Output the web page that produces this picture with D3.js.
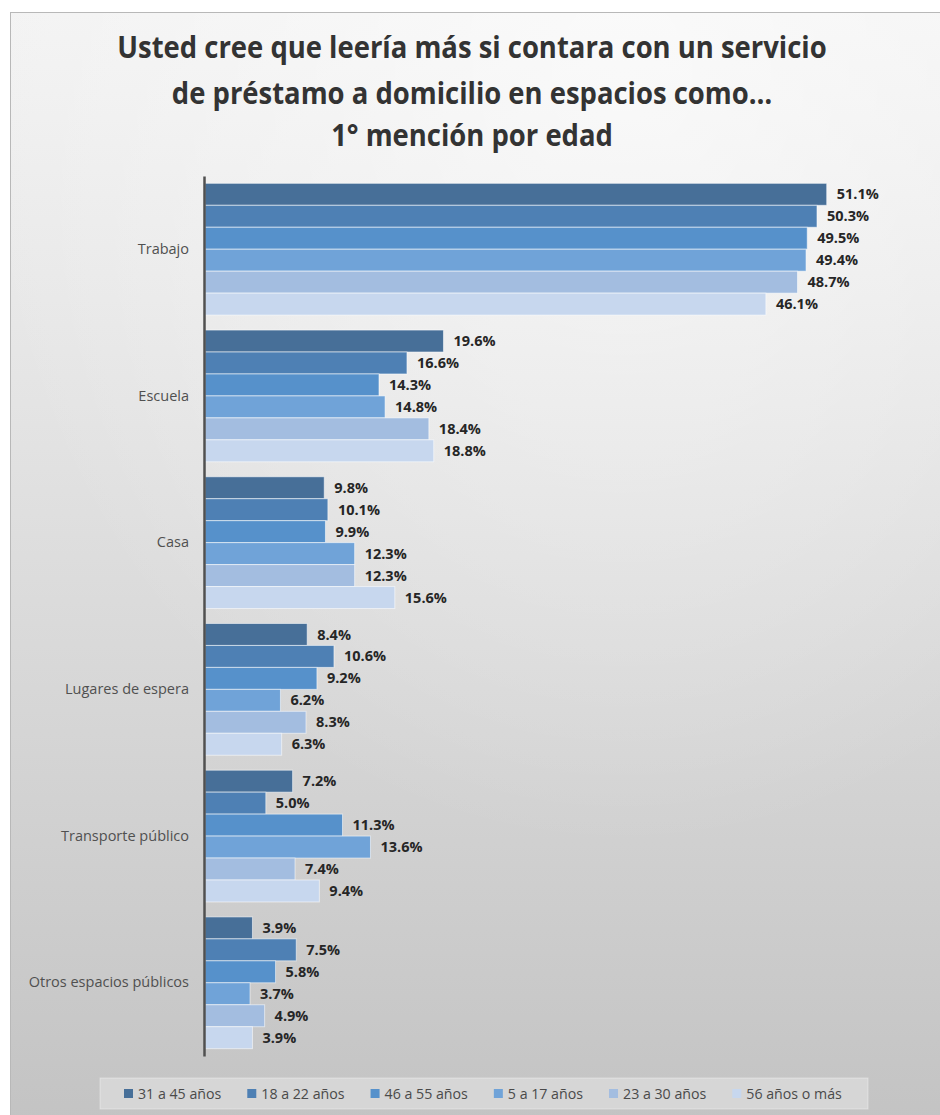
<!DOCTYPE html>
<html>
<head>
<meta charset="utf-8">
<script src="https://cdn.jsdelivr.net/npm/d3@7"></script>
<style>
  html, body { margin: 0; padding: 0; background: #ffffff; }
  svg { display: block; }
</style>
</head>
<body>
<svg id="chart" width="940" height="1115"></svg>
<script>
// ---- Data ----
const titleLines = [
  "Usted cree que leería más si contara con un servicio",
  "de préstamo a domicilio en espacios como…",
  "1° mención por edad"
];
const categories = ["Trabajo", "Escuela", "Casa", "Lugares de espera", "Transporte público", "Otros espacios públicos"];
const seriesNames = ["31 a 45 años", "18 a 22 años", "46 a 55 años", "5 a 17 años", "23 a 30 años", "56 años o más"];
const s31a45 = [51.1, 19.6, 9.8, 8.4, 7.2, 3.9];
const s18a22 = [50.3, 16.6, 10.1, 10.6, 5.0, 7.5];
const s46a55 = [49.5, 14.3, 9.9, 9.2, 11.3, 5.8];
const s5a17  = [49.4, 14.8, 12.3, 6.2, 13.6, 3.7];
const s23a30 = [48.7, 18.4, 12.3, 8.3, 7.4, 4.9];
const s56mas = [46.1, 18.8, 15.6, 6.3, 9.4, 3.9];
const seriesValues = [s31a45, s18a22, s46a55, s5a17, s23a30, s56mas];
const seriesColors = ["#476f98", "#4e80b4", "#5691cb", "#70a3d8", "#a3bde0", "#c7d7ee"];

// ---- Build ----
const svg = d3.select("#chart");
const W = 940, H = 1115;

const defs = svg.append("defs");
const lg = defs.append("linearGradient").attr("id", "bg").attr("x1", 0).attr("y1", 0).attr("x2", 0).attr("y2", 1);
lg.append("stop").attr("offset", "0%").attr("stop-color", "#f3f3f3");
lg.append("stop").attr("offset", "35%").attr("stop-color", "#e4e4e4");
lg.append("stop").attr("offset", "100%").attr("stop-color", "#c3c3c3");
const rg = defs.append("radialGradient").attr("id", "glow").attr("cx", 0.65).attr("cy", 0.05).attr("r", 0.7);
rg.append("stop").attr("offset", "0%").attr("stop-color", "#ffffff").attr("stop-opacity", 0.6);
rg.append("stop").attr("offset", "100%").attr("stop-color", "#ffffff").attr("stop-opacity", 0);

svg.append("rect").attr("x", 0).attr("y", 0).attr("width", W).attr("height", H).attr("fill", "#ffffff");
svg.append("rect").attr("x", 10.5).attr("y", 12.5).attr("width", W).attr("height", H)
  .attr("fill", "url(#bg)").attr("stroke", "#b8b8b8").attr("stroke-width", 1);
svg.append("rect").attr("x", 11).attr("y", 13).attr("width", W).attr("height", H).attr("fill", "url(#glow)");

// Title (condensed horizontally to mimic a narrow face)
const titleG = svg.append("g").attr("transform", "translate(472,0) scale(0.885,1)");
const title = titleG.append("text").attr("text-anchor", "middle")
  .attr("font-family", "'Open Sans', sans-serif")
  .attr("font-weight", "bold").attr("font-size", 31).attr("fill", "#333333");
const titleY = [58, 104, 146];
titleLines.forEach((t, i) => {
  title.append("tspan").attr("x", 0).attr("y", titleY[i]).text(t);
});

// Scales
const x = d3.scaleLinear().domain([0, 60]).range([205, 935]);
const y = d3.scaleBand().domain(categories).range([176, 1056]).paddingInner(0.102).paddingOuter(0.05);
const yInner = d3.scaleBand().domain(d3.range(seriesNames.length)).range([0, y.bandwidth()]);

// Bars
const groups = svg.append("g").selectAll("g").data(categories).join("g")
  .attr("transform", d => `translate(0,${y(d)})`);

groups.each(function(cat, ci) {
  const g = d3.select(this);
  const rows = seriesValues.map((vals, si) => ({ si, v: vals[ci] }));
  g.selectAll("rect").data(rows).join("rect")
    .attr("x", x(0))
    .attr("y", d => yInner(d.si))
    .attr("width", d => x(d.v) - x(0))
    .attr("height", yInner.bandwidth())
    .attr("fill", d => seriesColors[d.si])
    .attr("stroke", "rgba(255,255,255,0.55)")
    .attr("stroke-width", 1);
  g.selectAll("text.val").data(rows).join("text").attr("class", "val")
    .attr("x", d => x(d.v) + 10)
    .attr("y", d => yInner(d.si) + yInner.bandwidth() / 2)
    .attr("dy", "0.35em")
    .attr("font-family", "'Open Sans', sans-serif")
    .attr("font-weight", "bold").attr("font-size", 14.5).attr("fill", "#262626")
    .text(d => d.v.toFixed(1) + "%");
});

// Axis
const yAxis = d3.axisLeft(y).tickSize(0).tickPadding(15);
const ag = svg.append("g").attr("transform", `translate(${x(0) - 1},0)`).call(yAxis);
ag.select(".domain").attr("stroke", "#505050").attr("stroke-width", 2.5);
ag.selectAll(".tick text").attr("font-family", "'Open Sans', sans-serif")
  .attr("font-size", 14.5).attr("fill", "#505050");

// Legend
svg.append("rect").attr("x", 100).attr("y", 1078).attr("width", 768).attr("height", 31)
  .attr("fill", "rgba(255,255,255,0.3)").attr("stroke", "rgba(255,255,255,0.35)");
const leg = svg.append("g");
let lx = 124;
seriesNames.forEach((n, i) => {
  leg.append("rect").attr("x", lx).attr("y", 1089).attr("width", 9).attr("height", 9).attr("fill", seriesColors[i]);
  const t = leg.append("text").attr("x", lx + 14).attr("y", 1094).attr("dy", "0.35em")
    .attr("font-family", "'Open Sans', sans-serif")
    .attr("font-size", 14.2).attr("fill", "#4a4a4a").text(n);
  lx += 14 + t.node().getComputedTextLength() + 26;
});
</script>
</body>
</html>
